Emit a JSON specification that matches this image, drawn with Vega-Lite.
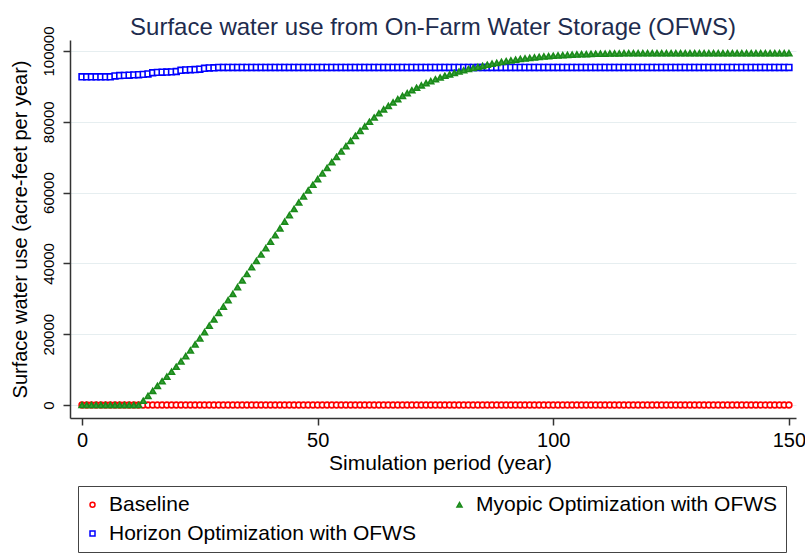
{
  "$schema": "https://vega.github.io/schema/vega-lite/v6.json",
  "width": 726,
  "height": 378,
  "autosize": {"type": "none"},
  "padding": {"left": 70, "top": 40, "right": 9, "bottom": 136},
  "background": "white",
  "title": {"text": "Surface water use from On-Farm Water Storage (OFWS)", "fontSize": 24, "font": "Liberation Sans", "fontWeight": "normal", "color": "#1e2c4e", "anchor": "middle", "offset": -14},
  "config": {
    "view": {"stroke": null},
    "font": "Liberation Sans",
    "axis": {"domainColor": "#333333", "domainWidth": 1.5, "tickColor": "#333333", "tickWidth": 1.5, "tickSize": 7, "labelFontSize": 20, "labelColor": "#000000", "titleFontSize": 21, "titleFontWeight": "normal", "titleColor": "#000000", "labelFont": "Liberation Sans", "titleFont": "Liberation Sans", "labelFlush": false, "labelOverlap": false},
    "legend": {"orient": "none", "legendX": 8, "legendY": 446, "columns": 2, "strokeColor": "#444444", "fillColor": "white", "padding": 8, "labelFontSize": 21, "labelFont": "Liberation Sans", "labelColor": "#000000", "labelLimit": 450, "symbolSize": 25, "symbolStrokeWidth": 1.5, "rowPadding": 7, "columnPadding": 37, "gridAlign": "all", "labelOffset": 6, "symbolOffset": -4}
  },
  "data": {"values": [
    {"Year":0,"Baseline":0,"Horizon Optimization with OFWS":92700,"Myopic Optimization with OFWS":0},
    {"Year":1,"Baseline":0,"Horizon Optimization with OFWS":92700,"Myopic Optimization with OFWS":0},
    {"Year":2,"Baseline":0,"Horizon Optimization with OFWS":92700,"Myopic Optimization with OFWS":0},
    {"Year":3,"Baseline":0,"Horizon Optimization with OFWS":92700,"Myopic Optimization with OFWS":0},
    {"Year":4,"Baseline":0,"Horizon Optimization with OFWS":92700,"Myopic Optimization with OFWS":0},
    {"Year":5,"Baseline":0,"Horizon Optimization with OFWS":92700,"Myopic Optimization with OFWS":0},
    {"Year":6,"Baseline":0,"Horizon Optimization with OFWS":92700,"Myopic Optimization with OFWS":0},
    {"Year":7,"Baseline":0,"Horizon Optimization with OFWS":92950,"Myopic Optimization with OFWS":0},
    {"Year":8,"Baseline":0,"Horizon Optimization with OFWS":93050,"Myopic Optimization with OFWS":0},
    {"Year":9,"Baseline":0,"Horizon Optimization with OFWS":93100,"Myopic Optimization with OFWS":0},
    {"Year":10,"Baseline":0,"Horizon Optimization with OFWS":93150,"Myopic Optimization with OFWS":0},
    {"Year":11,"Baseline":0,"Horizon Optimization with OFWS":93250,"Myopic Optimization with OFWS":0},
    {"Year":12,"Baseline":0,"Horizon Optimization with OFWS":93300,"Myopic Optimization with OFWS":0},
    {"Year":13,"Baseline":0,"Horizon Optimization with OFWS":93400,"Myopic Optimization with OFWS":1200},
    {"Year":14,"Baseline":0,"Horizon Optimization with OFWS":93500,"Myopic Optimization with OFWS":2600},
    {"Year":15,"Baseline":0,"Horizon Optimization with OFWS":93850,"Myopic Optimization with OFWS":4000},
    {"Year":16,"Baseline":0,"Horizon Optimization with OFWS":93950,"Myopic Optimization with OFWS":5400},
    {"Year":17,"Baseline":0,"Horizon Optimization with OFWS":94000,"Myopic Optimization with OFWS":6700},
    {"Year":18,"Baseline":0,"Horizon Optimization with OFWS":94050,"Myopic Optimization with OFWS":8000},
    {"Year":19,"Baseline":0,"Horizon Optimization with OFWS":94100,"Myopic Optimization with OFWS":9400},
    {"Year":20,"Baseline":0,"Horizon Optimization with OFWS":94200,"Myopic Optimization with OFWS":10800},
    {"Year":21,"Baseline":0,"Horizon Optimization with OFWS":94550,"Myopic Optimization with OFWS":12300},
    {"Year":22,"Baseline":0,"Horizon Optimization with OFWS":94650,"Myopic Optimization with OFWS":13800},
    {"Year":23,"Baseline":0,"Horizon Optimization with OFWS":94700,"Myopic Optimization with OFWS":15400},
    {"Year":24,"Baseline":0,"Horizon Optimization with OFWS":94750,"Myopic Optimization with OFWS":17100},
    {"Year":25,"Baseline":0,"Horizon Optimization with OFWS":94850,"Myopic Optimization with OFWS":18800},
    {"Year":26,"Baseline":0,"Horizon Optimization with OFWS":95100,"Myopic Optimization with OFWS":20600},
    {"Year":27,"Baseline":0,"Horizon Optimization with OFWS":95200,"Myopic Optimization with OFWS":22400},
    {"Year":28,"Baseline":0,"Horizon Optimization with OFWS":95250,"Myopic Optimization with OFWS":24200},
    {"Year":29,"Baseline":0,"Horizon Optimization with OFWS":95350,"Myopic Optimization with OFWS":26000},
    {"Year":30,"Baseline":0,"Horizon Optimization with OFWS":95350,"Myopic Optimization with OFWS":27800},
    {"Year":31,"Baseline":0,"Horizon Optimization with OFWS":95350,"Myopic Optimization with OFWS":29600},
    {"Year":32,"Baseline":0,"Horizon Optimization with OFWS":95350,"Myopic Optimization with OFWS":31400},
    {"Year":33,"Baseline":0,"Horizon Optimization with OFWS":95350,"Myopic Optimization with OFWS":33300},
    {"Year":34,"Baseline":0,"Horizon Optimization with OFWS":95350,"Myopic Optimization with OFWS":35200},
    {"Year":35,"Baseline":0,"Horizon Optimization with OFWS":95350,"Myopic Optimization with OFWS":37000},
    {"Year":36,"Baseline":0,"Horizon Optimization with OFWS":95350,"Myopic Optimization with OFWS":38900},
    {"Year":37,"Baseline":0,"Horizon Optimization with OFWS":95350,"Myopic Optimization with OFWS":40700},
    {"Year":38,"Baseline":0,"Horizon Optimization with OFWS":95350,"Myopic Optimization with OFWS":42500},
    {"Year":39,"Baseline":0,"Horizon Optimization with OFWS":95350,"Myopic Optimization with OFWS":44300},
    {"Year":40,"Baseline":0,"Horizon Optimization with OFWS":95350,"Myopic Optimization with OFWS":46100},
    {"Year":41,"Baseline":0,"Horizon Optimization with OFWS":95350,"Myopic Optimization with OFWS":48000},
    {"Year":42,"Baseline":0,"Horizon Optimization with OFWS":95350,"Myopic Optimization with OFWS":49900},
    {"Year":43,"Baseline":0,"Horizon Optimization with OFWS":95350,"Myopic Optimization with OFWS":51800},
    {"Year":44,"Baseline":0,"Horizon Optimization with OFWS":95350,"Myopic Optimization with OFWS":53600},
    {"Year":45,"Baseline":0,"Horizon Optimization with OFWS":95350,"Myopic Optimization with OFWS":55400},
    {"Year":46,"Baseline":0,"Horizon Optimization with OFWS":95350,"Myopic Optimization with OFWS":57200},
    {"Year":47,"Baseline":0,"Horizon Optimization with OFWS":95350,"Myopic Optimization with OFWS":58900},
    {"Year":48,"Baseline":0,"Horizon Optimization with OFWS":95350,"Myopic Optimization with OFWS":60600},
    {"Year":49,"Baseline":0,"Horizon Optimization with OFWS":95350,"Myopic Optimization with OFWS":62200},
    {"Year":50,"Baseline":0,"Horizon Optimization with OFWS":95350,"Myopic Optimization with OFWS":63800},
    {"Year":51,"Baseline":0,"Horizon Optimization with OFWS":95350,"Myopic Optimization with OFWS":65400},
    {"Year":52,"Baseline":0,"Horizon Optimization with OFWS":95350,"Myopic Optimization with OFWS":67000},
    {"Year":53,"Baseline":0,"Horizon Optimization with OFWS":95350,"Myopic Optimization with OFWS":68600},
    {"Year":54,"Baseline":0,"Horizon Optimization with OFWS":95350,"Myopic Optimization with OFWS":70100},
    {"Year":55,"Baseline":0,"Horizon Optimization with OFWS":95350,"Myopic Optimization with OFWS":71600},
    {"Year":56,"Baseline":0,"Horizon Optimization with OFWS":95350,"Myopic Optimization with OFWS":73100},
    {"Year":57,"Baseline":0,"Horizon Optimization with OFWS":95350,"Myopic Optimization with OFWS":74600},
    {"Year":58,"Baseline":0,"Horizon Optimization with OFWS":95350,"Myopic Optimization with OFWS":76000},
    {"Year":59,"Baseline":0,"Horizon Optimization with OFWS":95350,"Myopic Optimization with OFWS":77400},
    {"Year":60,"Baseline":0,"Horizon Optimization with OFWS":95350,"Myopic Optimization with OFWS":78700},
    {"Year":61,"Baseline":0,"Horizon Optimization with OFWS":95350,"Myopic Optimization with OFWS":80000},
    {"Year":62,"Baseline":0,"Horizon Optimization with OFWS":95350,"Myopic Optimization with OFWS":81200},
    {"Year":63,"Baseline":0,"Horizon Optimization with OFWS":95350,"Myopic Optimization with OFWS":82400},
    {"Year":64,"Baseline":0,"Horizon Optimization with OFWS":95350,"Myopic Optimization with OFWS":83500},
    {"Year":65,"Baseline":0,"Horizon Optimization with OFWS":95350,"Myopic Optimization with OFWS":84500},
    {"Year":66,"Baseline":0,"Horizon Optimization with OFWS":95350,"Myopic Optimization with OFWS":85500},
    {"Year":67,"Baseline":0,"Horizon Optimization with OFWS":95350,"Myopic Optimization with OFWS":86400},
    {"Year":68,"Baseline":0,"Horizon Optimization with OFWS":95350,"Myopic Optimization with OFWS":87300},
    {"Year":69,"Baseline":0,"Horizon Optimization with OFWS":95350,"Myopic Optimization with OFWS":88100},
    {"Year":70,"Baseline":0,"Horizon Optimization with OFWS":95350,"Myopic Optimization with OFWS":88900},
    {"Year":71,"Baseline":0,"Horizon Optimization with OFWS":95350,"Myopic Optimization with OFWS":89600},
    {"Year":72,"Baseline":0,"Horizon Optimization with OFWS":95350,"Myopic Optimization with OFWS":90300},
    {"Year":73,"Baseline":0,"Horizon Optimization with OFWS":95350,"Myopic Optimization with OFWS":90900},
    {"Year":74,"Baseline":0,"Horizon Optimization with OFWS":95350,"Myopic Optimization with OFWS":91500},
    {"Year":75,"Baseline":0,"Horizon Optimization with OFWS":95350,"Myopic Optimization with OFWS":92000},
    {"Year":76,"Baseline":0,"Horizon Optimization with OFWS":95350,"Myopic Optimization with OFWS":92500},
    {"Year":77,"Baseline":0,"Horizon Optimization with OFWS":95350,"Myopic Optimization with OFWS":93000},
    {"Year":78,"Baseline":0,"Horizon Optimization with OFWS":95350,"Myopic Optimization with OFWS":93400},
    {"Year":79,"Baseline":0,"Horizon Optimization with OFWS":95350,"Myopic Optimization with OFWS":93800},
    {"Year":80,"Baseline":0,"Horizon Optimization with OFWS":95350,"Myopic Optimization with OFWS":94200},
    {"Year":81,"Baseline":0,"Horizon Optimization with OFWS":95350,"Myopic Optimization with OFWS":94550},
    {"Year":82,"Baseline":0,"Horizon Optimization with OFWS":95350,"Myopic Optimization with OFWS":94900},
    {"Year":83,"Baseline":0,"Horizon Optimization with OFWS":95350,"Myopic Optimization with OFWS":95200},
    {"Year":84,"Baseline":0,"Horizon Optimization with OFWS":95350,"Myopic Optimization with OFWS":95500},
    {"Year":85,"Baseline":0,"Horizon Optimization with OFWS":95350,"Myopic Optimization with OFWS":95800},
    {"Year":86,"Baseline":0,"Horizon Optimization with OFWS":95350,"Myopic Optimization with OFWS":96100},
    {"Year":87,"Baseline":0,"Horizon Optimization with OFWS":95350,"Myopic Optimization with OFWS":96400},
    {"Year":88,"Baseline":0,"Horizon Optimization with OFWS":95350,"Myopic Optimization with OFWS":96650},
    {"Year":89,"Baseline":0,"Horizon Optimization with OFWS":95350,"Myopic Optimization with OFWS":96900},
    {"Year":90,"Baseline":0,"Horizon Optimization with OFWS":95350,"Myopic Optimization with OFWS":97150},
    {"Year":91,"Baseline":0,"Horizon Optimization with OFWS":95350,"Myopic Optimization with OFWS":97350},
    {"Year":92,"Baseline":0,"Horizon Optimization with OFWS":95350,"Myopic Optimization with OFWS":97550},
    {"Year":93,"Baseline":0,"Horizon Optimization with OFWS":95350,"Myopic Optimization with OFWS":97750},
    {"Year":94,"Baseline":0,"Horizon Optimization with OFWS":95350,"Myopic Optimization with OFWS":97900},
    {"Year":95,"Baseline":0,"Horizon Optimization with OFWS":95350,"Myopic Optimization with OFWS":98050},
    {"Year":96,"Baseline":0,"Horizon Optimization with OFWS":95350,"Myopic Optimization with OFWS":98200},
    {"Year":97,"Baseline":0,"Horizon Optimization with OFWS":95350,"Myopic Optimization with OFWS":98350},
    {"Year":98,"Baseline":0,"Horizon Optimization with OFWS":95350,"Myopic Optimization with OFWS":98450},
    {"Year":99,"Baseline":0,"Horizon Optimization with OFWS":95350,"Myopic Optimization with OFWS":98550},
    {"Year":100,"Baseline":0,"Horizon Optimization with OFWS":95350,"Myopic Optimization with OFWS":98650},
    {"Year":101,"Baseline":0,"Horizon Optimization with OFWS":95350,"Myopic Optimization with OFWS":98750},
    {"Year":102,"Baseline":0,"Horizon Optimization with OFWS":95350,"Myopic Optimization with OFWS":98830},
    {"Year":103,"Baseline":0,"Horizon Optimization with OFWS":95350,"Myopic Optimization with OFWS":98900},
    {"Year":104,"Baseline":0,"Horizon Optimization with OFWS":95350,"Myopic Optimization with OFWS":98970},
    {"Year":105,"Baseline":0,"Horizon Optimization with OFWS":95350,"Myopic Optimization with OFWS":99030},
    {"Year":106,"Baseline":0,"Horizon Optimization with OFWS":95350,"Myopic Optimization with OFWS":99080},
    {"Year":107,"Baseline":0,"Horizon Optimization with OFWS":95350,"Myopic Optimization with OFWS":99130},
    {"Year":108,"Baseline":0,"Horizon Optimization with OFWS":95350,"Myopic Optimization with OFWS":99170},
    {"Year":109,"Baseline":0,"Horizon Optimization with OFWS":95350,"Myopic Optimization with OFWS":99210},
    {"Year":110,"Baseline":0,"Horizon Optimization with OFWS":95350,"Myopic Optimization with OFWS":99240},
    {"Year":111,"Baseline":0,"Horizon Optimization with OFWS":95350,"Myopic Optimization with OFWS":99270},
    {"Year":112,"Baseline":0,"Horizon Optimization with OFWS":95350,"Myopic Optimization with OFWS":99300},
    {"Year":113,"Baseline":0,"Horizon Optimization with OFWS":95350,"Myopic Optimization with OFWS":99320},
    {"Year":114,"Baseline":0,"Horizon Optimization with OFWS":95350,"Myopic Optimization with OFWS":99340},
    {"Year":115,"Baseline":0,"Horizon Optimization with OFWS":95350,"Myopic Optimization with OFWS":99360},
    {"Year":116,"Baseline":0,"Horizon Optimization with OFWS":95350,"Myopic Optimization with OFWS":99380},
    {"Year":117,"Baseline":0,"Horizon Optimization with OFWS":95350,"Myopic Optimization with OFWS":99390},
    {"Year":118,"Baseline":0,"Horizon Optimization with OFWS":95350,"Myopic Optimization with OFWS":99400},
    {"Year":119,"Baseline":0,"Horizon Optimization with OFWS":95350,"Myopic Optimization with OFWS":99400},
    {"Year":120,"Baseline":0,"Horizon Optimization with OFWS":95350,"Myopic Optimization with OFWS":99400},
    {"Year":121,"Baseline":0,"Horizon Optimization with OFWS":95350,"Myopic Optimization with OFWS":99400},
    {"Year":122,"Baseline":0,"Horizon Optimization with OFWS":95350,"Myopic Optimization with OFWS":99400},
    {"Year":123,"Baseline":0,"Horizon Optimization with OFWS":95350,"Myopic Optimization with OFWS":99400},
    {"Year":124,"Baseline":0,"Horizon Optimization with OFWS":95350,"Myopic Optimization with OFWS":99400},
    {"Year":125,"Baseline":0,"Horizon Optimization with OFWS":95350,"Myopic Optimization with OFWS":99400},
    {"Year":126,"Baseline":0,"Horizon Optimization with OFWS":95350,"Myopic Optimization with OFWS":99400},
    {"Year":127,"Baseline":0,"Horizon Optimization with OFWS":95350,"Myopic Optimization with OFWS":99400},
    {"Year":128,"Baseline":0,"Horizon Optimization with OFWS":95350,"Myopic Optimization with OFWS":99400},
    {"Year":129,"Baseline":0,"Horizon Optimization with OFWS":95350,"Myopic Optimization with OFWS":99400},
    {"Year":130,"Baseline":0,"Horizon Optimization with OFWS":95350,"Myopic Optimization with OFWS":99400},
    {"Year":131,"Baseline":0,"Horizon Optimization with OFWS":95350,"Myopic Optimization with OFWS":99400},
    {"Year":132,"Baseline":0,"Horizon Optimization with OFWS":95350,"Myopic Optimization with OFWS":99400},
    {"Year":133,"Baseline":0,"Horizon Optimization with OFWS":95350,"Myopic Optimization with OFWS":99400},
    {"Year":134,"Baseline":0,"Horizon Optimization with OFWS":95350,"Myopic Optimization with OFWS":99400},
    {"Year":135,"Baseline":0,"Horizon Optimization with OFWS":95350,"Myopic Optimization with OFWS":99400},
    {"Year":136,"Baseline":0,"Horizon Optimization with OFWS":95350,"Myopic Optimization with OFWS":99400},
    {"Year":137,"Baseline":0,"Horizon Optimization with OFWS":95350,"Myopic Optimization with OFWS":99400},
    {"Year":138,"Baseline":0,"Horizon Optimization with OFWS":95350,"Myopic Optimization with OFWS":99400},
    {"Year":139,"Baseline":0,"Horizon Optimization with OFWS":95350,"Myopic Optimization with OFWS":99400},
    {"Year":140,"Baseline":0,"Horizon Optimization with OFWS":95350,"Myopic Optimization with OFWS":99400},
    {"Year":141,"Baseline":0,"Horizon Optimization with OFWS":95350,"Myopic Optimization with OFWS":99400},
    {"Year":142,"Baseline":0,"Horizon Optimization with OFWS":95350,"Myopic Optimization with OFWS":99400},
    {"Year":143,"Baseline":0,"Horizon Optimization with OFWS":95350,"Myopic Optimization with OFWS":99400},
    {"Year":144,"Baseline":0,"Horizon Optimization with OFWS":95350,"Myopic Optimization with OFWS":99400},
    {"Year":145,"Baseline":0,"Horizon Optimization with OFWS":95350,"Myopic Optimization with OFWS":99400},
    {"Year":146,"Baseline":0,"Horizon Optimization with OFWS":95350,"Myopic Optimization with OFWS":99400},
    {"Year":147,"Baseline":0,"Horizon Optimization with OFWS":95350,"Myopic Optimization with OFWS":99400},
    {"Year":148,"Baseline":0,"Horizon Optimization with OFWS":95350,"Myopic Optimization with OFWS":99400},
    {"Year":149,"Baseline":0,"Horizon Optimization with OFWS":95350,"Myopic Optimization with OFWS":99400},
    {"Year":150,"Baseline":0,"Horizon Optimization with OFWS":95350,"Myopic Optimization with OFWS":99400}
  ]},
  "transform": [{"fold": ["Baseline", "Horizon Optimization with OFWS", "Myopic Optimization with OFWS"], "as": ["series", "value"]}],
  "mark": {"type": "point", "strokeWidth": 1.6, "opacity": 1, "size": 34},
  "encoding": {
    "x": {"field": "Year", "type": "quantitative", "scale": {"domain": [-2.55, 151.5], "nice": false, "zero": false},
      "axis": {"title": "Simulation period (year)", "values": [0, 50, 100, 150], "format": "d", "grid": false, "labelPadding": 5, "titlePadding": 2, "titleX": 370}},
    "y": {"field": "value", "type": "quantitative", "scale": {"domain": [-3670, 103100], "nice": false, "zero": false},
      "axis": {"title": "Surface water use (acre-feet per year)", "titleFontSize": 20, "labelFontSize": 15, "values": [0, 20000, 40000, 60000, 80000, 100000], "format": "d", "grid": true, "gridColor": "#e6eef0", "gridWidth": 1, "labelAngle": 270, "labelAlign": "center", "labelBaseline": "alphabetic", "labelPadding": 10, "titlePadding": 11}},
    "stroke": {"field": "series", "type": "nominal", "title": null,
      "scale": {"domain": ["Baseline", "Horizon Optimization with OFWS", "Myopic Optimization with OFWS"], "range": ["#ff0000", "#0000ff", "#1a8a1a"]}},
    "fill": {"field": "series", "type": "nominal", "title": null,
      "scale": {"domain": ["Baseline", "Horizon Optimization with OFWS", "Myopic Optimization with OFWS"], "range": ["#ffffff", "#ffffff", "#38a038"]}},
    "shape": {"field": "series", "type": "nominal", "title": null,
      "scale": {"domain": ["Baseline", "Horizon Optimization with OFWS", "Myopic Optimization with OFWS"], "range": ["circle", "square", "triangle-up"]}},
    "order": {"field": "series", "type": "ordinal"}
  }
}
